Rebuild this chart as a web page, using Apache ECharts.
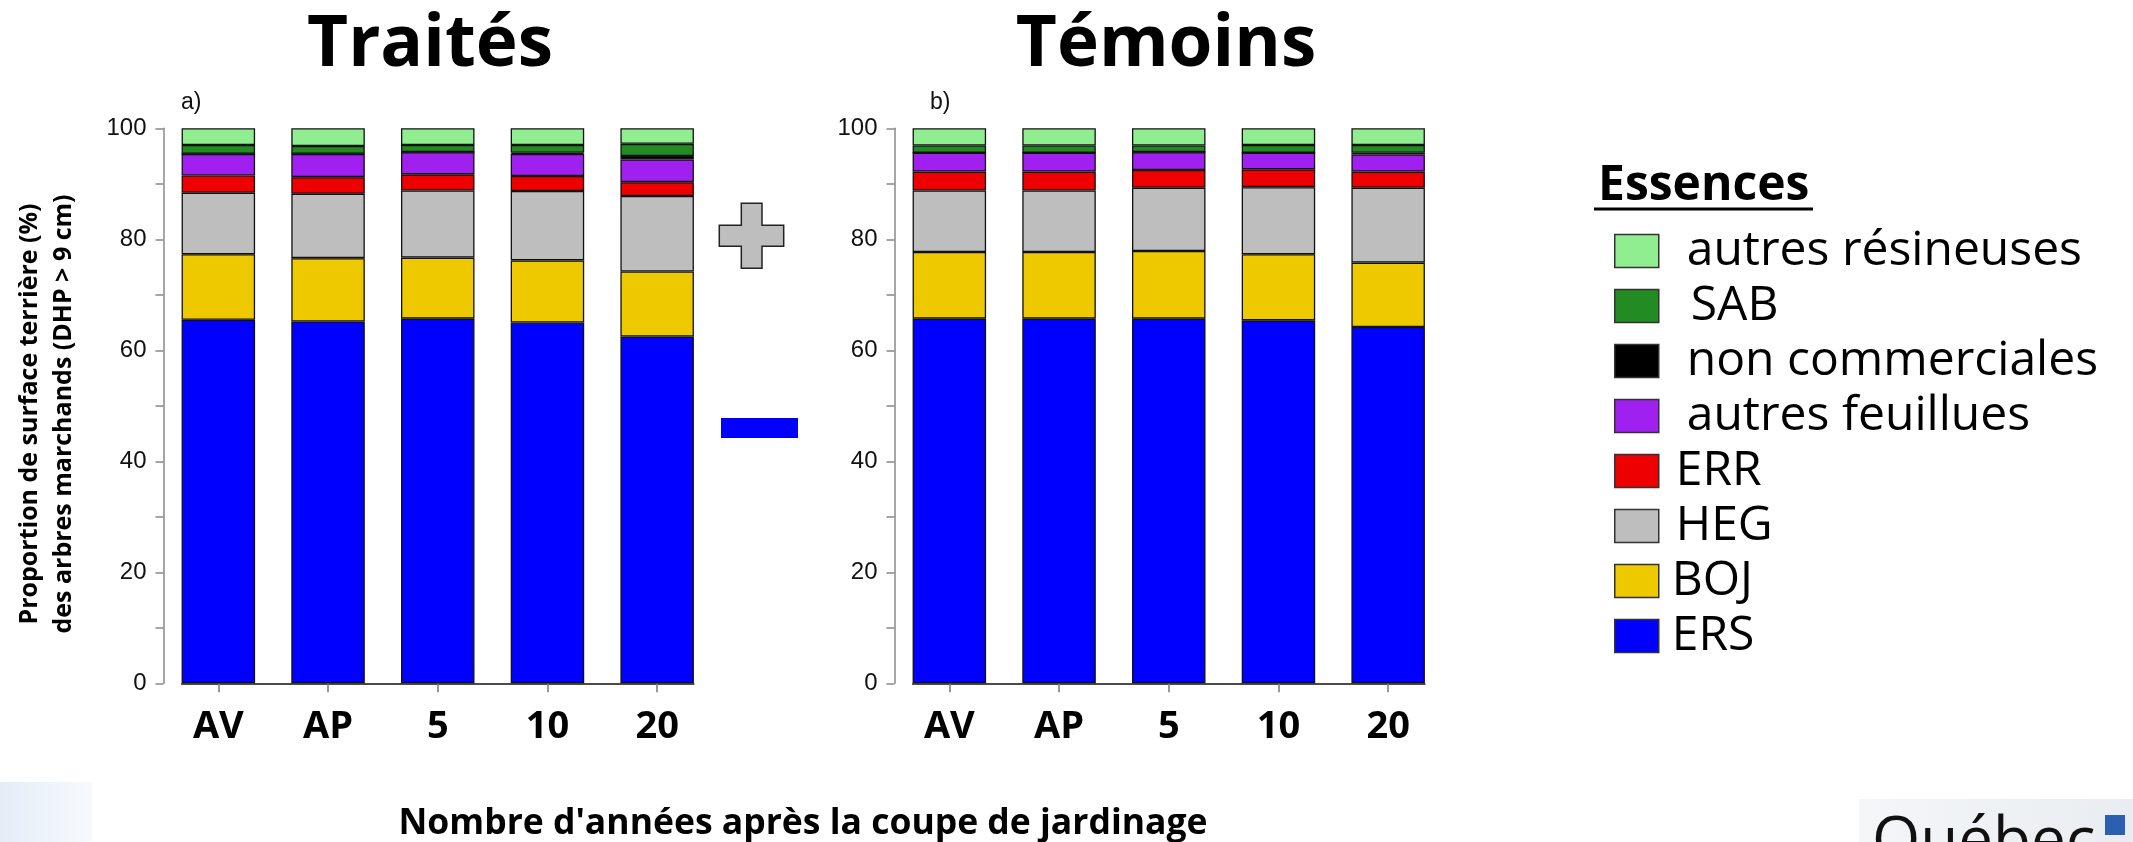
<!DOCTYPE html>
<html>
<head>
<meta charset="utf-8">
<script src="https://cdn.jsdelivr.net/npm/echarts@6/dist/echarts.min.js"></script>
<style>
html,body{margin:0;padding:0;background:#fff;}
#chart{width:2133px;height:842px;}
</style>
</head>
<body>
<div id="chart"></div>
<script>
// ---------- DATA ----------
const categories = ['AV', 'AP', '5', '10', '20'];
const yTicks = [0, 20, 40, 60, 80, 100];
const speciesNames = ['ERS', 'BOJ', 'HEG', 'ERR', 'autres feuillues', 'non commerciales', 'SAB', 'autres résineuses'];
const legendOrder = ['autres résineuses', 'SAB', 'non commerciales', 'autres feuillues', 'ERR', 'HEG', 'BOJ', 'ERS'];

// Traités (a)
const ERS_T = [65.5, 65.2, 65.7, 65.0, 62.5];
const BOJ_T = [11.8, 11.4, 11.0, 11.2, 11.7];
const HEG_T = [11.1, 11.6, 12.1, 12.5, 13.6];
const ERR_T = [3.1, 3.0, 2.9, 2.7, 2.5];
const AF_T  = [3.9, 4.2, 4.0, 4.0, 4.1];
const NC_T  = [0.0, 0.0, 0.0, 0.2, 0.6];
const SAB_T = [1.6, 1.4, 1.3, 1.4, 2.2];
const AR_T  = [3.0, 3.2, 3.0, 3.0, 2.8];

// Témoins (b)
const ERS_M = [65.7, 65.7, 65.7, 65.4, 64.2];
const BOJ_M = [12.0, 12.0, 12.2, 11.9, 11.6];
const HEG_M = [11.1, 11.1, 11.4, 12.1, 13.5];
const ERR_M = [3.4, 3.4, 3.2, 3.2, 2.9];
const AF_M  = [3.4, 3.4, 3.2, 3.0, 3.1];
const NC_M  = [0.0, 0.0, 0.0, 0.0, 0.3];
const SAB_M = [1.3, 1.3, 1.2, 1.4, 1.4];
const AR_M  = [3.1, 3.1, 3.1, 3.0, 3.0];

const panelTitles = ['Traités', 'Témoins'];
const panelTags = ['a)', 'b)'];
const panelSeries = [
  [ERS_T, BOJ_T, HEG_T, ERR_T, AF_T, NC_T, SAB_T, AR_T],
  [ERS_M, BOJ_M, HEG_M, ERR_M, AF_M, NC_M, SAB_M, AR_M]
];

// ---------- STYLE / LAYOUT ----------
const speciesColors = ['#0000FF', '#EEC900', '#BEBEBE', '#EE0000', '#A020F0', '#000000', '#228B22', '#90EE90'];
const legendTextPad = {'autres résineuses': 23, 'SAB': 27, 'non commerciales': 23, 'autres feuillues': 23, 'ERR': 12, 'HEG': 12, 'BOJ': 8, 'ERS': 8};
const GRID_TOP = 128.3, GRID_H = 555, GRID_W = 548.5;
const gridLefts = [163.5, 894.5];
const GAP_FRAC = 0.33;
const FONT = '"Open Sans", "Noto Sans", sans-serif';
const AXFONT = '"Liberation Sans", Arial, sans-serif';

const grids = [], xAxes = [], yAxes = [], series = [];
gridLefts.forEach((L, p) => {
  grids.push({left: L, top: GRID_TOP, width: GRID_W, height: GRID_H, containLabel: false});
  xAxes.push({
    type: 'category', gridIndex: p, data: categories,
    axisLine: {show: false},
    axisTick: {show: true, alignWithLabel: true, length: 9, lineStyle: {color: '#777', width: 1.5}},
    axisLabel: {margin: 25, fontFamily: FONT, fontWeight: 'bold', fontSize: 38, color: '#000'}
  });
  yAxes.push({
    type: 'value', gridIndex: p, min: 0, max: 100, interval: 10,
    axisLine: {show: true, lineStyle: {color: '#888', width: 1.5}},
    axisTick: {show: true, length: 8, lineStyle: {color: '#888', width: 1.5}},
    splitLine: {show: false},
    axisLabel: {
      margin: 17, fontFamily: AXFONT, fontSize: 24, color: '#111',
      formatter: v => (yTicks.indexOf(v) >= 0 ? String(v) : '')
    }
  });
  panelSeries[p].forEach((arr, i) => {
    series.push({
      name: speciesNames[i], type: 'bar', stack: 'panel' + p,
      xAxisIndex: p, yAxisIndex: p, data: arr,
      barCategoryGap: (GAP_FRAC * 100) + '%',
      itemStyle: {color: speciesColors[i], borderColor: '#111', borderWidth: 1.3},
      emphasis: {disabled: true}
    });
  });
});
// baseline axis lines spanning only from first to last bar
gridLefts.forEach((L, p) => {
  const band = GRID_W / categories.length;
  const off = band * GAP_FRAC / 2;
  grids.push({left: L + off, top: GRID_TOP + GRID_H - 10, width: GRID_W - 2 * off, height: 10});
  xAxes.push({type: 'category', gridIndex: p + 2, data: categories, boundaryGap: false,
    axisLine: {show: true, lineStyle: {color: '#111', width: 1.5}},
    axisTick: {show: false}, axisLabel: {show: false}});
  yAxes.push({type: 'value', gridIndex: p + 2, show: false, min: 0, max: 1});
});

const graphics = [];
// panel titles and tags
const titleX = [430, 1166];
panelTitles.forEach((t, p) => {
  graphics.push({type: 'text', x: titleX[p], y: 46, z: 10,
    style: {text: t, font: 'bold 71px ' + FONT, fill: '#000', textAlign: 'center', textVerticalAlign: 'middle'}});
});
const tagX = [181, 930];
panelTags.forEach((t, p) => {
  graphics.push({type: 'text', x: tagX[p], y: 103,
    style: {text: t, font: '23px ' + AXFONT, fill: '#111', textAlign: 'left', textVerticalAlign: 'middle'}});
});
// y axis title (two lines)
graphics.push({type: 'text', x: 30, y: 414, rotation: Math.PI / 2,
  style: {text: 'Proportion de surface terrière (%)', font: 'bold 25px ' + FONT, fill: '#000', textAlign: 'center', textVerticalAlign: 'middle'}});
graphics.push({type: 'text', x: 64, y: 414, rotation: Math.PI / 2,
  style: {text: 'des arbres marchands (DHP > 9 cm)', font: 'bold 25px ' + FONT, fill: '#000', textAlign: 'center', textVerticalAlign: 'middle'}});
// x axis title
graphics.push({type: 'text', x: 803, y: 824,
  style: {text: "Nombre d'années après la coupe de jardinage", font: 'bold 35.5px ' + FONT, fill: '#000', textAlign: 'center', textVerticalAlign: 'middle'}});
// + and - symbols
graphics.push({type: 'polygon', shape: {points: [
  [741.3, 203.3], [762, 203.3], [762, 225.3], [783.7, 225.3], [783.7, 246.3], [762, 246.3],
  [762, 268.3], [741.3, 268.3], [741.3, 246.3], [719.3, 246.3], [719.3, 225.3], [741.3, 225.3]]},
  style: {fill: '#BEBEBE', stroke: '#222', lineWidth: 1.5}});
graphics.push({type: 'rect', shape: {x: 721, y: 418, width: 77, height: 20}, style: {fill: '#0000FF'}});
// legend title
graphics.push({type: 'text', x: 1598, y: 186,
  style: {text: 'Essences', font: 'bold 48px ' + FONT, fill: '#000', textAlign: 'left', textVerticalAlign: 'middle'}});
graphics.push({type: 'line', shape: {x1: 1594, y1: 209, x2: 1813, y2: 209}, style: {stroke: '#000', lineWidth: 3}});
// slide artifacts at the bottom corners
graphics.push({type: 'rect', shape: {x: 0, y: 782, width: 92, height: 60},
  style: {fill: {type: 'linear', x: 0, y: 0, x2: 1, y2: 0, colorStops: [{offset: 0, color: '#e3edf7'}, {offset: 1, color: '#f7fafd'}]}}});
graphics.push({type: 'rect', shape: {x: 1859, y: 799, width: 274, height: 43},
  style: {fill: {type: 'linear', x: 0, y: 0, x2: 1, y2: 0, colorStops: [{offset: 0, color: '#f4f6f8'}, {offset: 1, color: '#e9edf1'}]}}});
graphics.push({type: 'text', x: 1872, y: 812,
  style: {text: 'Québec', font: '62px ' + FONT, fill: '#111', textAlign: 'left', textVerticalAlign: 'top'}});
graphics.push({type: 'rect', shape: {x: 2105, y: 815, width: 20, height: 20}, style: {fill: '#2b5fb0'}});

const chart = echarts.init(document.getElementById('chart'), null, {renderer: 'canvas'});
chart.setOption({
  animation: false,
  backgroundColor: '#fff',
  grid: grids,
  xAxis: xAxes,
  yAxis: yAxes,
  legend: {
    orient: 'vertical', left: 1609, top: 222,
    itemWidth: 44, itemHeight: 33, itemGap: 7,
    selectedMode: false, icon: 'rect',
    itemStyle: {borderColor: '#333', borderWidth: 1.5},
    textStyle: {fontFamily: FONT, fontSize: 48, color: '#000'},
    data: legendOrder.map(n => ({name: n, textStyle: {padding: [0, 0, 0, legendTextPad[n]]}}))
  },
  series: series,
  graphic: graphics
});
</script>
</body>
</html>
